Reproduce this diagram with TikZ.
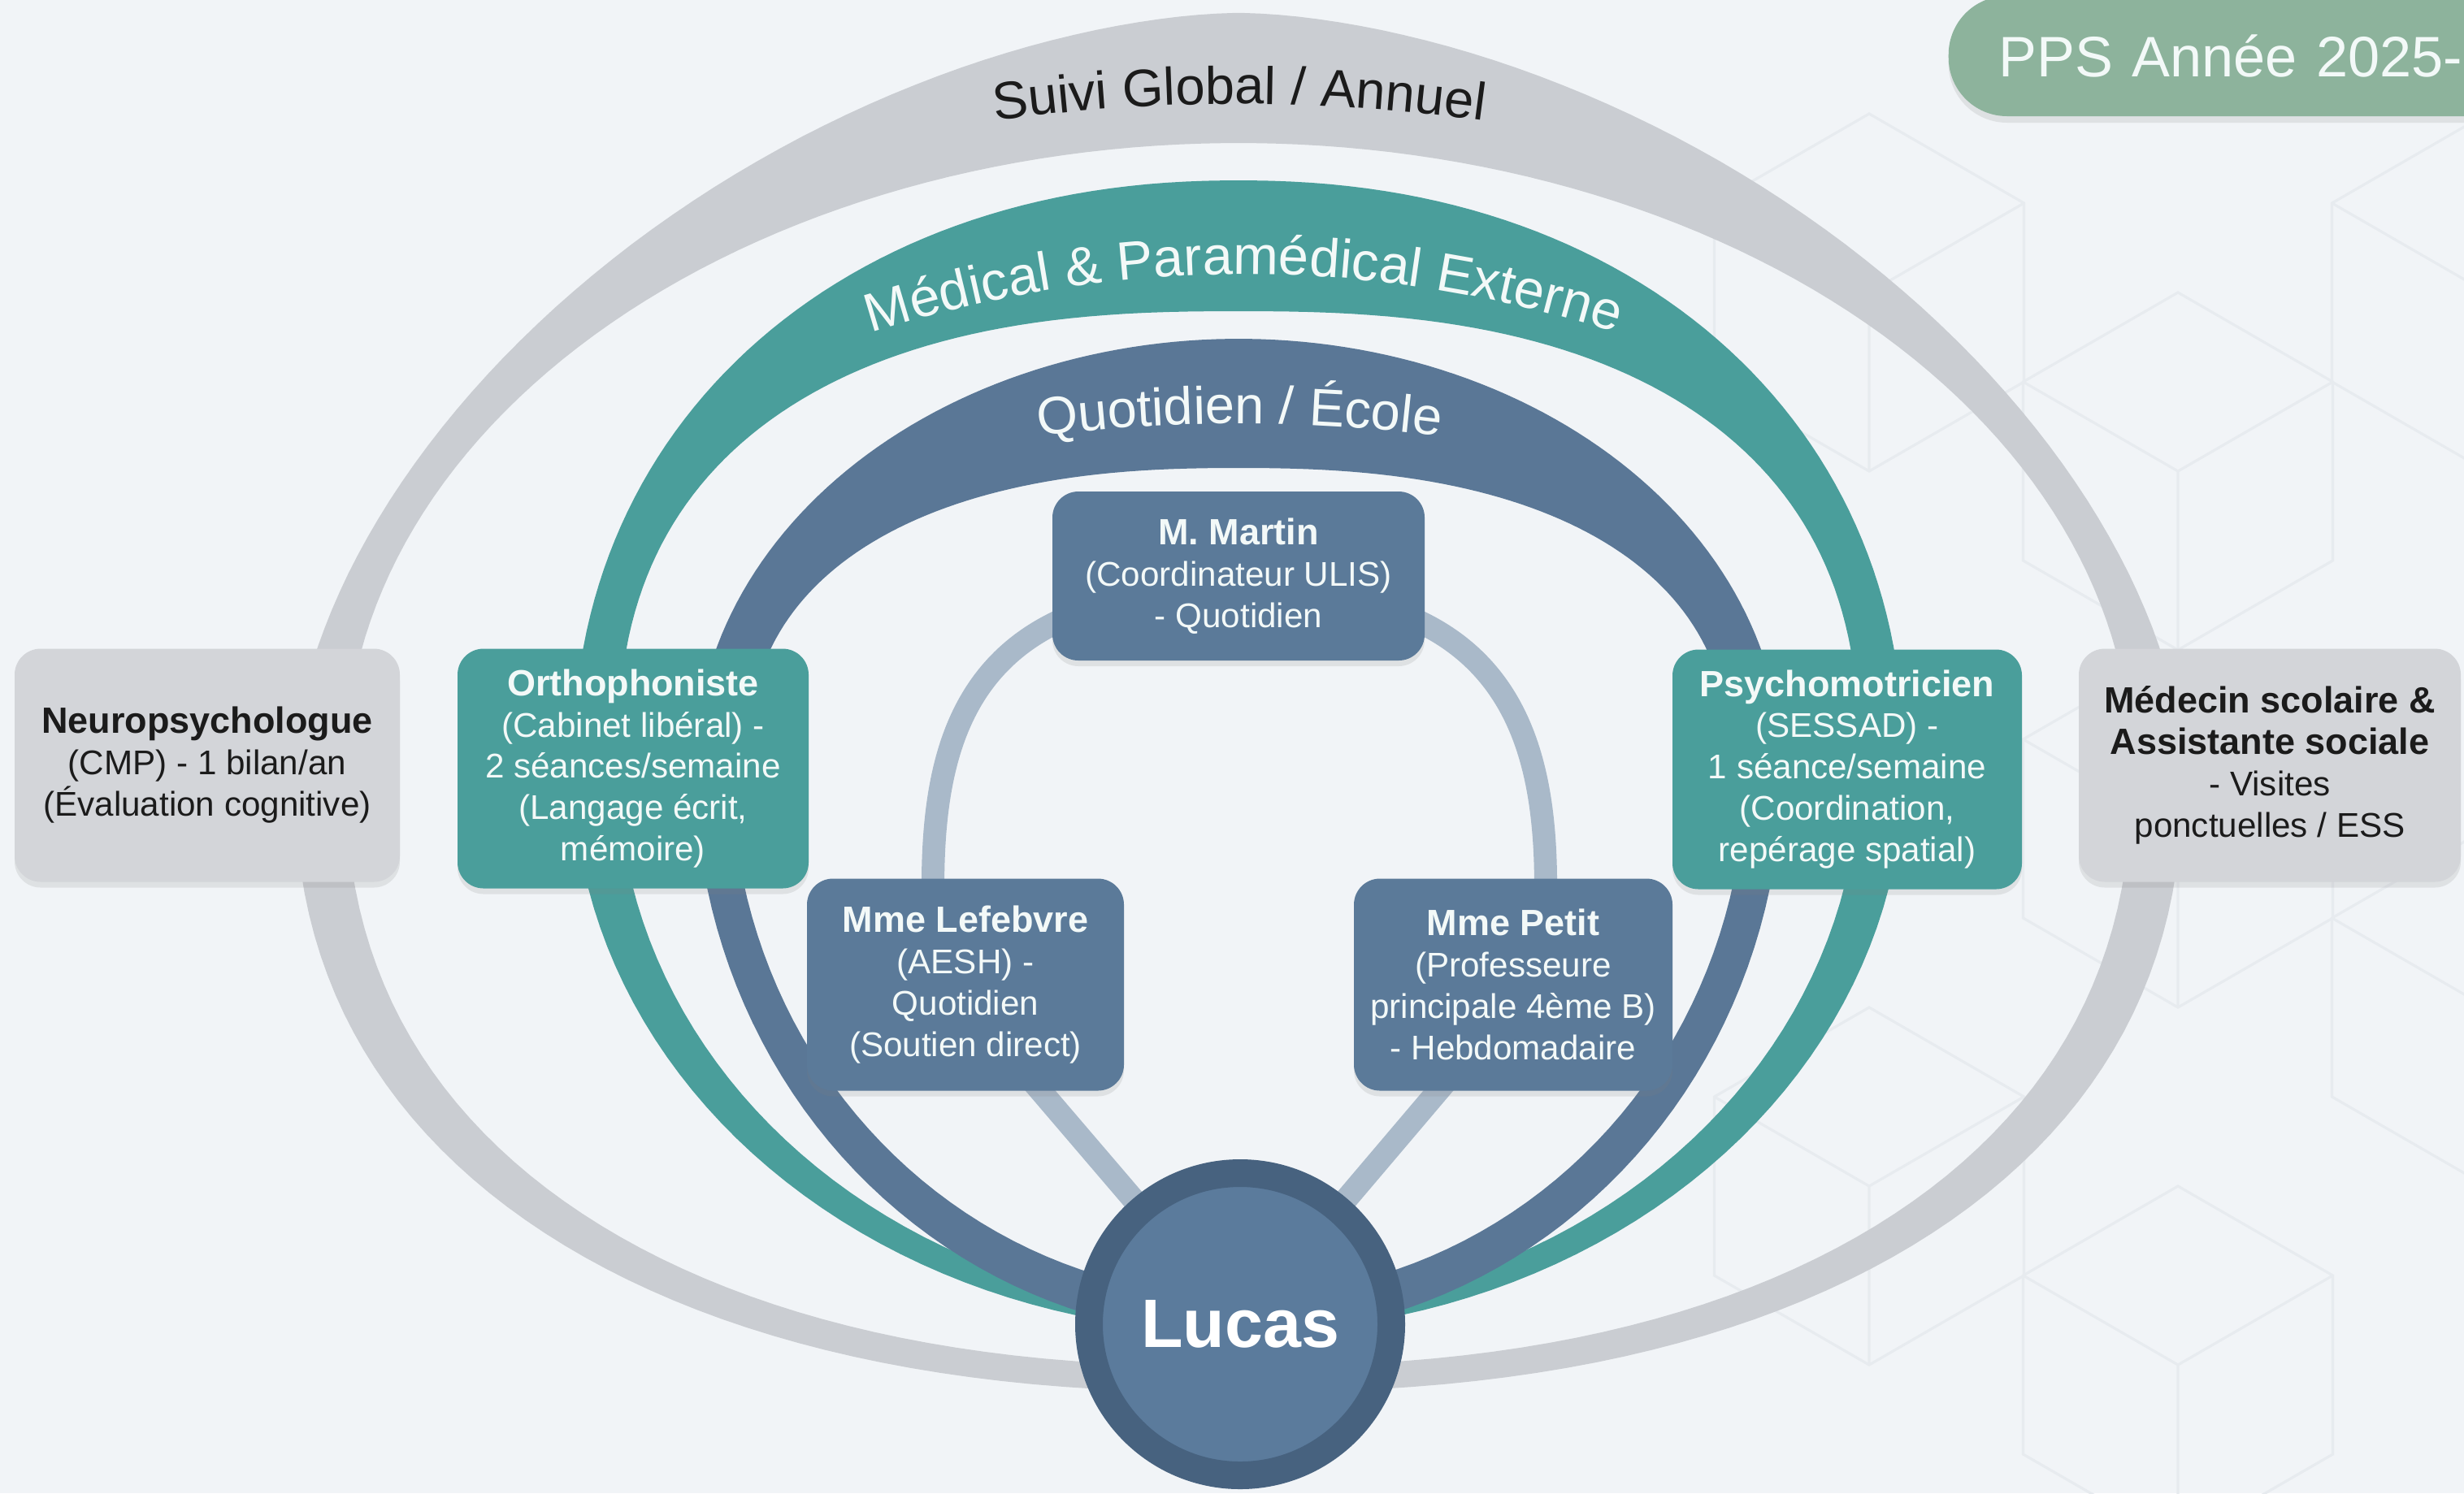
\documentclass[tikz,border=0pt]{standalone}
\usepackage{fontspec}
\setmainfont{Liberation Sans}
\usetikzlibrary{backgrounds,shadows,decorations.text}

\definecolor{paperbg}{HTML}{F1F4F7}
\definecolor{hexgrey}{HTML}{E7EBEF}
\definecolor{ringgrey}{HTML}{CACDD2}
\definecolor{boxgrey}{HTML}{D3D5D9}
\definecolor{tealfill}{HTML}{4A9E9B}
\definecolor{blueband}{HTML}{5A7796}
\definecolor{bluefill}{HTML}{5B7A99}
\definecolor{lucasout}{HTML}{47627F}
\definecolor{lucasin}{HTML}{5B7B9C}
\definecolor{linkgrey}{HTML}{A9B9C9}
\definecolor{pillgreen}{HTML}{8DB39C}
\definecolor{ink}{HTML}{1B1B1B}
\definecolor{paper}{HTML}{F3F9F8}

\newcommand{\cardtitle}[1]{{\fontsize{12.8}{14.5}\selectfont\bfseries #1}}

\tikzset{
    card/.style={rounded corners=0.32cm, align=center, inner sep=0.08cm,
        font=\fontsize{12}{14.5}\selectfont,
        drop shadow={opacity=0.16, shadow xshift=0cm, shadow yshift=-0.07cm}},
    greycard/.style={card, fill=boxgrey, text=ink, minimum width=4.74cm, minimum height=2.87cm},
    tealcard/.style={card, fill=tealfill, text=paper, minimum width=4.32cm, minimum height=2.95cm},
    bluecard/.style={card, fill=bluefill, text=paper, minimum width=3.9cm, minimum height=2.61cm},
    link/.style={linkgrey, line width=8pt},
    hexline/.style={hexgrey, line width=0.9pt},
    % superellipse arc: cx, cy, a, b, n, from, to, samples
    sarc/.style n args={8}{insert path={plot[domain=#6:#7, samples=#8, variable=\t]
        ({#1+#3*cos(\t)*pow(abs(cos(\t))+0.0001,2/#5-1)}, {#2-#4*sin(\t)*pow(abs(sin(\t))+0.0001,2/#5-1)})}},
    sarcto/.style n args={8}{insert path={-- plot[domain=#6:#7, samples=#8, variable=\t]
        ({#1+#3*cos(\t)*pow(abs(cos(\t))+0.0001,2/#5-1)}, {#2-#4*sin(\t)*pow(abs(sin(\t))+0.0001,2/#5-1)})}}
}

\begin{document}
\begin{tikzpicture}[x=1cm, y=-1cm]
    \useasboundingbox (0,0) rectangle (30.32,18.38);
    \clip (0,0) rectangle (30.32,18.38);

    \node[anchor=west, fill=pillgreen, rounded corners=0.72cm, minimum height=1.48cm,
        text width=9cm, align=left, inner xsep=0.62cm, text=paper,
        font=\fontsize{20}{24}\selectfont,
        drop shadow={opacity=0.16, shadow xshift=0cm, shadow yshift=-0.08cm}] (pps) at (23.97,0.69) {PPS Année 2025-2026};

    \node[greycard] (neuro) at (2.55,9.42) {\cardtitle{Neuropsychologue}\\(CMP) - 1 bilan/an\\(Évaluation cognitive)};
    \node[greycard, minimum width=4.70cm] (medecin) at (27.93,9.42) {\cardtitle{Médecin scolaire \&}\\\cardtitle{Assistante sociale}\\- Visites\\ponctuelles / ESS};
    \node[tealcard] (ortho) at (7.79,9.46) {\cardtitle{Orthophoniste}\\(Cabinet libéral) -\\2 séances/semaine\\(Langage écrit,\\mémoire)};
    \node[tealcard, minimum width=4.30cm] (psycho) at (22.73,9.47) {\cardtitle{Psychomotricien}\\(SESSAD) -\\1 séance/semaine\\(Coordination,\\repérage spatial)};
    \node[bluecard, minimum width=4.58cm, minimum height=2.08cm] (martin) at (15.24,7.09) {\cardtitle{M. Martin}\\(Coordinateur ULIS)\\- Quotidien};
    \node[bluecard] (lef) at (11.88,12.12) {\cardtitle{Mme Lefebvre}\\(AESH) -\\Quotidien\\(Soutien direct)};
    \node[bluecard, minimum width=3.92cm] (petit) at (18.62,12.12) {\cardtitle{Mme Petit}\\(Professeure\\principale 4ème B)\\- Hebdomadaire};
    \node[circle, fill=lucasin, draw=lucasout, line width=0.34cm, minimum size=3.72cm, text=white,
        font=\bfseries\fontsize{24}{28}\selectfont,
        drop shadow={opacity=0.2, shadow xshift=0cm, shadow yshift=-0.1cm}] (lucas) at (15.26,16.30) {Lucas};

    \begin{scope}[on background layer]
        \fill[paperbg] (0,0) rectangle (30.32,18.38);
        \foreach \hx/\hy in {23.0/3.6, 26.8/5.8, 30.6/3.6, 26.8/10.2, 30.6/12.4, 23.0/14.6, 26.8/16.8}
            \draw[hexline] (\hx,\hy) +(30:2.2) -- +(90:2.2) -- +(150:2.2) -- +(210:2.2) -- +(270:2.2) -- +(330:2.2) -- cycle
                (\hx,\hy) -- +(90:2.2) (\hx,\hy) -- +(210:2.2) (\hx,\hy) -- +(330:2.2);
        \fill[ringgrey, even odd rule]
            [sarc={15.24}{9.45}{11.62}{9.29}{1.72}{0}{180}{120}] [sarcto={15.24}{9.45}{11.62}{7.69}{2.3}{180}{360}{100}] -- cycle
            [sarc={15.24}{9.45}{10.99}{7.69}{2}{0}{180}{120}] [sarcto={15.24}{9.45}{10.99}{7.37}{2.3}{180}{360}{100}] -- cycle;
        \fill[tealfill]
            [sarc={15.24}{9.45}{8.19}{6.95}{2}{260}{180}{40}] [sarcto={15.24}{9.45}{8.19}{7.23}{2.15}{180}{0}{120}]
            [sarcto={15.24}{9.45}{8.19}{6.95}{2}{360}{280}{40}] [sarcto={15.24}{9.45}{7.64}{6.7}{2}{280}{360}{40}]
            [sarcto={15.24}{9.45}{7.64}{5.62}{2.5}{0}{180}{120}] [sarcto={15.24}{9.45}{7.64}{6.7}{2}{180}{260}{40}] -- cycle;
        \fill[blueband]
            [sarc={15.24}{9.45}{6.69}{7.0}{2}{260}{180}{40}] [sarcto={15.24}{9.45}{6.69}{5.28}{2}{180}{0}{120}]
            [sarcto={15.24}{9.45}{6.69}{7.0}{2}{360}{280}{40}] [sarcto={15.24}{9.45}{6.24}{6.5}{2}{280}{360}{40}]
            [sarcto={15.24}{9.45}{6.04}{3.69}{2.4}{0}{180}{120}] [sarcto={15.24}{9.45}{6.24}{6.5}{2}{180}{260}{40}] -- cycle;

        \path[decorate, decoration={text along path, text align=center, text color=ink,
            text={|\fontsize{18.5}{22}\selectfont|Suivi Global / Annuel}}]
            (11.6,1.58) .. controls (14.03,1.18) and (16.47,1.18) .. (18.9,1.58);
        \path[decorate, decoration={text along path, text align=center, text color=paper,
            text={|\fontsize{19}{22}\selectfont|Médical {\&} Paramédical Externe}}]
            (10.0,4.34) .. controls (13.53,3.05) and (17.07,3.05) .. (20.6,4.34);
        \path[decorate, decoration={text along path, text align=center, text color=paper,
            text={|\fontsize{18.5}{22}\selectfont|Quotidien / École}}]
            (11.8,5.52) .. controls (14.1,5.11) and (16.4,5.11) .. (18.7,5.52);

        \draw[link] ([xshift=0.1cm, yshift=-0.55cm]martin.west) to[out=205, in=90] ([xshift=-0.4cm, yshift=-0.1cm]lef.north);
        \draw[link] ([xshift=-0.1cm, yshift=-0.55cm]martin.east) to[out=-25, in=90] ([xshift=0.4cm, yshift=-0.1cm]petit.north);
        \draw[link] ([xshift=0.8cm, yshift=0.15cm]lef.south) -- (lucas.center);
        \draw[link] ([xshift=-0.8cm, yshift=0.15cm]petit.south) -- (lucas.center);
    \end{scope}
\end{tikzpicture}
\end{document}
